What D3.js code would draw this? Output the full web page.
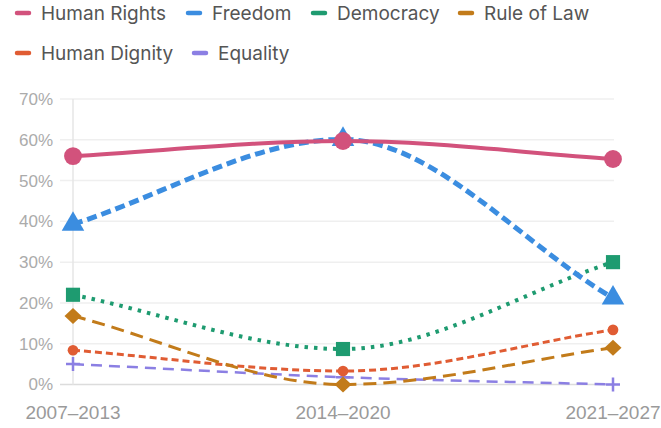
<!DOCTYPE html>
<html>
<head>
<meta charset="utf-8">
<script src="https://cdn.jsdelivr.net/npm/d3@7"></script>
<style>
body{margin:0;background:#fff;}
svg{display:block;font-family:Inter, "Noto Sans", sans-serif;}
</style>
</head>
<body>
<div id="chart"></div>
<script>
// periods on x axis
const PERIODS = ['2007–2013', '2014–2020', '2021–2027']
const Y_TICKS = [0, 10, 20, 30, 40, 50, 60, 70]

// values in percent
const humanRights = [56, 59.7, 55.3]
const freedom = [39.3, 60.1, 21.2]
const democracy = [22, 8.7, 30]
const ruleOfLaw = [16.8, 0, 9]
const humanDignity = [8.4, 3.3, 13.4]
const equality = [5, 1.8, 0]

const SERIES = [
  {name:'Human Rights', values:humanRights, color:'#d2527c', width:4, dash:null, marker:'circle', size:250},
  {name:'Freedom', values:freedom, color:'#3b8de0', width:5, dash:'10,5', marker:'triangle', size:220},
  {name:'Democracy', values:democracy, color:'#1e9b70', width:4, dash:'3.5,6', marker:'square', size:200},
  {name:'Rule of Law', values:ruleOfLaw, color:'#c27b1a', width:3, dash:'13,7', marker:'diamond', size:8},
  {name:'Human Dignity', values:humanDignity, color:'#e05c33', width:3, dash:'7,4', marker:'circle', size:90},
  {name:'Equality', values:equality, color:'#8b7fe3', width:2.5, dash:'11,7', marker:'cross', size:7}
]

const width = 661, height = 428
const svg = d3.select('#chart').append('svg')
  .attr('width', width).attr('height', height)

const x = d3.scalePoint().domain(PERIODS).range([73, 613])
const y = d3.scaleLinear().domain([0, 70]).range([384.5, 99])

// gridlines
svg.append('g').selectAll('line').data(Y_TICKS).enter().append('line')
  .attr('x1', 60).attr('x2', 614)
  .attr('y1', d=>y(d)).attr('y2', d=>y(d))
  .attr('stroke', d=>d==0 ? '#dcdcdc' : '#efefef')
  .attr('stroke-width', 1.5)

svg.append('line')
  .attr('x1', x(PERIODS[0])).attr('x2', x(PERIODS[0]))
  .attr('y1', y(70)).attr('y2', y(0))
  .attr('stroke', '#e6e6e6').attr('stroke-width', 1.5)

// y labels
svg.append('g').selectAll('text').data(Y_TICKS).enter().append('text')
  .attr('x', 53).attr('y', d=>y(d))
  .attr('dy', '0.35em')
  .attr('text-anchor', 'end')
  .attr('font-family', '"Liberation Sans", Arial, sans-serif')
  .attr('font-size', 17)
  .attr('fill', '#ababab')
  .text(d=>d + '%')

// x labels
svg.append('g').selectAll('text').data(PERIODS).enter().append('text')
  .attr('x', d=>x(d)).attr('y', 412)
  .attr('dy', '0.35em')
  .attr('text-anchor', 'middle')
  .attr('font-family', '"Liberation Sans", Arial, sans-serif')
  .attr('font-size', 19)
  .attr('fill', '#9a9a9a')
  .text(d=>d)

// monotone curve with end tangents = end secant (softer than curveMonotoneX)
function curveSoftMonotone(context){
  let pts = []
  return {
    lineStart(){ pts = [] },
    point(px, py){ pts.push([px, py]) },
    lineEnd(){
      const n = pts.length
      if(!n) return
      const d = [], m = []
      for(let i=0;i<n-1;i++) d.push((pts[i+1][1]-pts[i][1])/(pts[i+1][0]-pts[i][0]))
      for(let i=0;i<n;i++){
        if(i==0) m.push(d[0])
        else if(i==n-1) m.push(d[n-2])
        else if(Math.sign(d[i-1])!=Math.sign(d[i]) || d[i-1]==0) m.push(0)
        else m.push((d[i-1]+d[i])/2)
      }
      context.moveTo(pts[0][0], pts[0][1])
      for(let i=0;i<n-1;i++){
        const h = (pts[i+1][0]-pts[i][0])/3
        context.bezierCurveTo(pts[i][0]+h, pts[i][1]+m[i]*h,
          pts[i+1][0]-h, pts[i+1][1]-m[i+1]*h, pts[i+1][0], pts[i+1][1])
      }
    },
    areaStart(){}, areaEnd(){}
  }
}

const line = d3.line()
  .x((d,i)=>x(PERIODS[i]))
  .y(d=>y(d))
  .curve(curveSoftMonotone)

const symbols = {circle:d3.symbolCircle, triangle:d3.symbolTriangle, square:d3.symbolSquare}

// draw series, last first so Human Rights sits on top
SERIES.slice().reverse().forEach(s=>{
  svg.append('path')
    .attr('d', line(s.values))
    .attr('fill', 'none')
    .attr('stroke', s.color)
    .attr('stroke-width', s.width)
    .attr('stroke-dasharray', s.dash)

  const g = svg.append('g')
  s.values.forEach((v,i)=>{
    const cx = x(PERIODS[i]), cy = y(v), r = s.size
    if(s.marker=='cross'){
      g.append('path')
        .attr('d', `M${cx-r},${cy}H${cx+r}M${cx},${cy-r}V${cy+r}`)
        .attr('stroke', s.color).attr('stroke-width', 2.5)
    } else if(s.marker=='diamond'){
      g.append('path')
        .attr('d', `M${cx-r-0.5},${cy}L${cx},${cy-r}L${cx+r+0.5},${cy}L${cx},${cy+r}Z`)
        .attr('fill', s.color)
    } else {
      g.append('path')
        .attr('transform', `translate(${cx},${cy})`)
        .attr('d', d3.symbol().type(symbols[s.marker]).size(s.size)())
        .attr('fill', s.color)
    }
  })
})

// legend
const LEGEND_POS = [[15,13],[186,13],[311,13],[458,13],[15,53],[192,53]]
const legend = svg.append('g')
SERIES.forEach((s,i)=>{
  const [lx, ly] = LEGEND_POS[i]
  legend.append('line')
    .attr('x1', lx+2).attr('x2', lx+14)
    .attr('y1', ly).attr('y2', ly)
    .attr('stroke', s.color).attr('stroke-width', 4.5)
    .attr('stroke-linecap', 'round')
  legend.append('text')
    .attr('x', lx+26).attr('y', ly)
    .attr('dy', '0.35em')
    .attr('font-size', 19)
    .attr('fill', '#555')
    .text(s.name)
})
</script>
</body>
</html>
